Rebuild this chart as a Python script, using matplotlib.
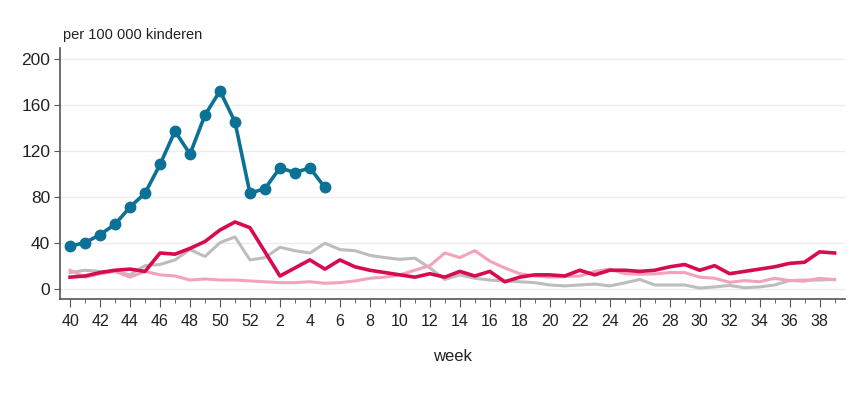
#!/usr/bin/env python3

import matplotlib
matplotlib.use("Agg")
import matplotlib.pyplot as plt
from matplotlib.ticker import FixedLocator

plt.rcParams['font.family'] = ['Liberation Sans', 'DejaVu Sans']

# season weeks 40..52, 1..39
weeks = list(range(40, 53)) + list(range(1, 40))

# current season (until week 5)
current = [37, 40, 47, 56, 71, 83, 108, 137, 117, 151, 172, 145, 83,
           87, 105, 101, 105, 88]

# previous seasons
red = [10, 11, 14, 16, 17, 15, 31, 30, 35, 41, 51, 58, 53,
       32, 11, 18, 25, 17, 25, 19, 16, 14, 12, 10, 13, 10,
       15, 11, 15, 6, 10, 12, 12, 11, 16, 12, 16, 16, 15, 16,
       19, 21, 16, 20, 13, 15, 17, 19, 22, 23, 32, 31]
pink = [16, 10, 13, 15, 10, 15, 12, 11, 7.5, 8.4, 7.5, 7.5, 6.7,
        6, 5.2, 5.2, 6, 4.7, 5.2, 6.7, 9, 10, 12, 16, 20, 31,
        27, 33, 24, 18, 13, 11, 10, 10.5, 11, 15, 17, 13, 12.5, 12.8,
        14, 14, 10, 9, 5.5, 7, 6, 9, 7, 6.5, 9, 7.8]
grey = [14, 16, 15, 15, 12, 20, 21, 25, 34, 28, 40, 45, 25,
        27, 36, 33, 31, 39.5, 34, 33, 29, 27, 25.5, 26.5, 18, 8,
        12, 9, 7.5, 6.7, 6, 5.2, 3.2, 2.4, 3.2, 4, 2.4, 5, 8, 3.2,
        3.2, 3.2, 0.5, 1.5, 2.8, 0.8, 1.5, 3.2, 7, 7.5, 7.5, 8]

x = list(range(len(weeks)))

fig = plt.figure(figsize=(8.54, 4.0), dpi=100)
ax = fig.add_axes([0.0703, 0.2525, 0.9187, 0.6275])

ax.plot(x, grey, color="#bdbdbd", lw=2.2, zorder=2)
ax.plot(x, pink, color="#f2a3b7", lw=2.2, zorder=3)
ax.plot(x, red, color="#d80a50", lw=2.6, zorder=4)
ax.plot(x[:len(current)], current, color="#0b7197", lw=2.6,
        marker="o", markersize=7.5, zorder=5)

ax.set_xlim(-0.67, 51.67)
ax.set_ylim(-9, 209.3)
ax.set_yticks([0, 40, 80, 120, 160, 200])
ax.grid(axis="y", color="#ececec", lw=1)
ax.set_axisbelow(True)

major = [i for i, w in enumerate(weeks) if w % 2 == 0]
minor = [i for i, w in enumerate(weeks) if w % 2 == 1]
ax.set_xticks(major)
ax.set_xticklabels([str(weeks[i]) for i in major])
ax.xaxis.set_minor_locator(FixedLocator(minor))

for s in ["top", "right"]:
    ax.spines[s].set_visible(False)
for s in ["left", "bottom"]:
    ax.spines[s].set_color("#555555")
    ax.spines[s].set_linewidth(1.2)

ax.tick_params(axis="x", which="major", length=6, color="#555555",
               labelsize=11.5, labelcolor="#222222", pad=5)
ax.tick_params(axis="x", which="minor", length=3, color="#555555")
ax.tick_params(axis="y", length=4, color="#555555", labelsize=12.5,
               labelcolor="#222222", pad=3)

ax.set_xlabel("week", fontsize=12, color="#222222", labelpad=14)
fig.text(0.074, 0.912, "per 100 000 kinderen", fontsize=10.5,
         color="#222222", ha="left", va="center")

fig.savefig("out.png", dpi=100)
